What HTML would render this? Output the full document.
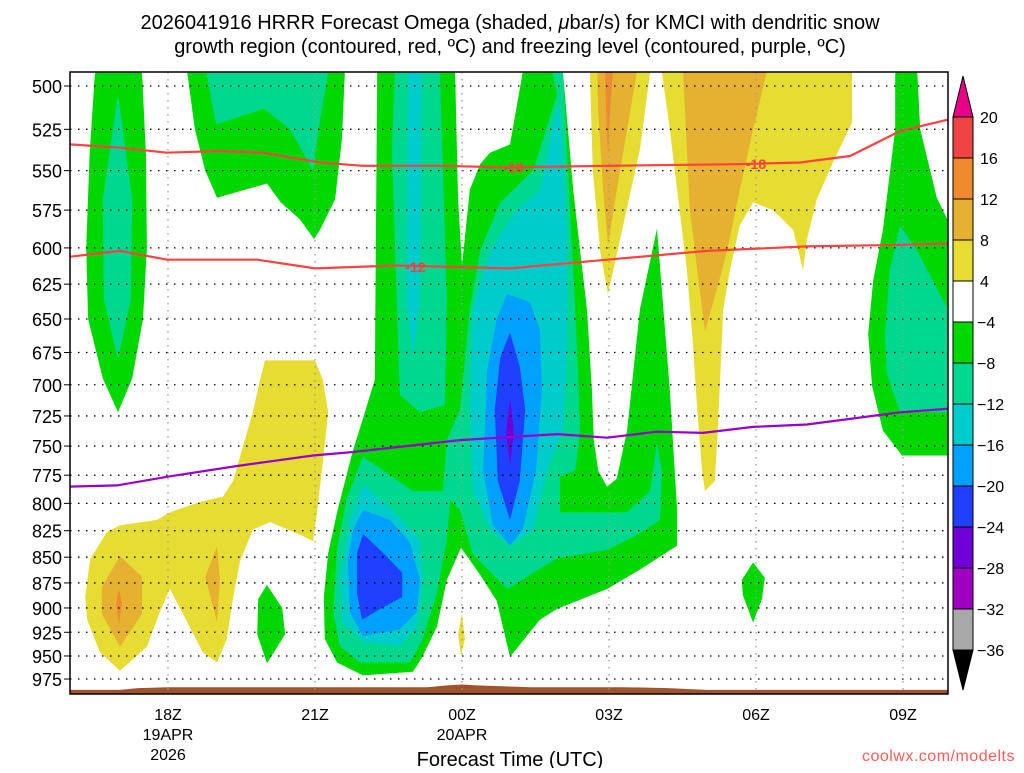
<!DOCTYPE html>
<html><head><meta charset="utf-8"><style>
body{margin:0;background:#fff;width:1024px;height:768px;overflow:hidden;font-family:"Liberation Sans",sans-serif}
svg text{font-family:"Liberation Sans","DejaVu Sans",sans-serif}
</style></head><body>
<svg id="chart" width="1024" height="768" xmlns="http://www.w3.org/2000/svg">
<text x="510" y="29" font-size="20" text-anchor="middle" fill="#000">2026041916 HRRR Forecast Omega (shaded, <tspan font-style="italic">μ</tspan>bar/s) for KMCI with dendritic snow</text>
<text x="510" y="53" font-size="20" text-anchor="middle" fill="#000">growth region (contoured, red, ºC) and freezing level (contoured, purple, ºC)</text>
<defs><clipPath id="pc"><rect x="70" y="72" width="878" height="622"/></clipPath></defs>
<g id="fills" clip-path="url(#pc)"></g>
<g id="grid"></g>
<g id="lines" clip-path="url(#pc)"></g>
<rect x="70" y="72" width="878" height="622" fill="none" stroke="#000" stroke-width="1.5"/>
<g id="axes"></g>
<g id="cbar"></g>
<text x="510" y="766" font-size="20" text-anchor="middle">Forecast Time (UTC)</text>
<text x="1015" y="761" font-size="16" text-anchor="end" fill="#ff5a5a" letter-spacing="0.5">coolwx.com/modelts</text>
</svg>
<script>
// ---- data ----
const pressureTicks=[500,525,550,575,600,625,650,675,700,725,750,775,800,825,850,875,900,925,950,975];
const timeTickHours=[2,5,8,11,14,17];
const timeTickLabels=[["18Z","19APR","2026"],["21Z"],["00Z","20APR"],["03Z"],["06Z"],["09Z"]];
const cbarLevels=[20,16,12,8,4,-4,-8,-12,-16,-20,-24,-28,-32,-36];
const cbarColors=["#f04444","#f08a2c","#e6b030","#e6dc32","#ffffff","#00d800","#00d890","#00cccc","#00a0ff","#2040ff","#7000d8","#a000c0","#a8a8a8"];
const aboveColor="#e8008a", belowColor="#000000";
// contour fill polygons: [band, [[hour, hPa],...]]
const fillShapes=[
["g",[[0.51,492],[1.47,492],[1.55,540],[1.57,600],[1.49,650],[1.27,695],[0.98,722],[0.67,695],[0.37,650],[0.33,600],[0.4,540]]],
["t",[[0.98,505],[1.27,568],[1.24,636],[0.98,680],[0.69,636],[0.67,568]]],
["g",[[2.39,492],[5.61,492],[5.55,531],[5.41,568],[5.10,588],[4.98,594],[4.69,581],[4.3,570],[4.02,558],[3.0,567],[2.76,550],[2.55,525]]],
["t",[[2.78,492],[5.27,492],[5.10,520],[4.96,550],[4.49,525],[3.96,513],[2.98,522]]],
["g",[[6.27,492],[10.06,492],[10.27,562],[10.41,602],[10.55,643],[10.65,704],[10.69,745],[10.78,771],[10.96,785],[11.16,778],[11.37,737],[11.63,643],[11.98,587],[12.24,704],[12.39,806],[12.39,839],[11.63,862],[10.96,881],[9.94,901],[9.59,912],[8.98,951],[8.71,893],[8.37,867],[7.98,841],[7.69,872],[7.49,919],[7.20,950],[7.0,967],[5.98,971],[5.45,957],[5.20,932],[5.18,889],[5.27,846],[5.45,808],[5.76,756],[5.98,727],[6.22,696]]],
["w",[[7.86,492],[9.24,492],[8.98,534],[8.57,539],[8.37,546],[8.16,562],[8.0,612],[7.92,568]]],
["t",[[6.63,492],[7.55,492],[7.69,636],[7.65,716],[7.14,722],[6.73,708],[6.57,537]]],
["t",[[7.96,720],[8.16,643],[8.37,602],[8.78,570],[9.45,550],[9.94,505],[9.84,492],[10.06,492],[10.14,537],[10.27,615],[10.35,673],[10.41,737],[10.31,771],[10.0,776],[10.0,808],[11.37,808],[11.84,789],[11.98,747],[12.08,771],[12.04,815],[11.57,829],[10.96,843],[9.94,851],[8.92,881],[8.22,847],[7.96,806],[7.76,797],[7.69,833],[7.49,885],[7.20,932],[6.94,957],[5.92,957],[5.51,940],[5.37,904],[5.45,841],[5.65,795],[5.98,759],[7.0,789],[7.61,789],[7.69,745]]],
["c",[[6.90,492],[7.18,492],[7.14,636],[7.0,679],[6.86,636]]],
["c",[[9.94,512],[9.59,562],[9.12,575],[8.57,602],[8.22,643],[8.16,720],[8.22,789],[8.57,824],[8.98,839],[9.45,824],[9.73,771],[10.06,737],[10.14,673],[10.14,588],[10.0,514]]],
["c",[[5.98,783],[5.71,815],[5.51,872],[5.57,914],[5.98,935],[6.73,939],[7.08,919],[7.20,872],[7.14,833],[6.53,804]]],
["b",[[8.92,632],[9.39,638],[9.59,658],[9.63,704],[9.51,771],[9.24,824],[8.98,839],[8.63,820],[8.43,771],[8.51,689],[8.71,650]]],
["b",[[5.98,806],[6.53,815],[6.94,836],[7.14,872],[7.08,904],[6.73,922],[5.98,929],[5.71,904],[5.67,852],[5.78,824]]],
["d",[[8.98,660],[9.18,686],[9.29,720],[9.18,780],[8.98,815],[8.73,780],[8.67,720],[8.78,679]]],
["d",[[5.98,828],[6.39,846],[6.78,865],[6.78,889],[6.33,901],[5.96,912],[5.86,885],[5.86,846]]],
["p",[[8.98,710],[9.06,738],[8.98,767],[8.90,738]]],
["g",[[16.84,491],[17.29,491],[17.35,525],[17.69,567],[17.92,582],[17.92,758],[16.98,758],[16.59,737],[16.37,701],[16.29,661],[16.39,623],[16.59,588],[16.84,525]]],
["t",[[16.94,585],[17.29,602],[17.92,643],[17.92,722],[16.94,722],[16.67,691],[16.63,661],[16.73,615]]],
["y",[[10.61,492],[11.84,492],[11.63,537],[11.22,595],[10.98,632],[10.82,602],[10.67,550]]],
["o2",[[10.76,492],[11.57,492],[11.37,525],[11.16,562],[10.98,598],[10.88,562],[10.78,514]]],
["o1",[[10.92,492],[11.08,492],[11.02,514],[10.98,540],[10.94,514]]],
["y",[[12.08,492],[15.96,492],[15.96,521],[15.57,545],[15.24,568],[15.04,594],[14.96,615],[14.76,588],[14.35,575],[13.94,570],[13.67,585],[13.47,615],[13.33,643],[13.22,737],[13.16,780],[12.96,789],[12.90,771],[12.80,720],[12.71,667],[12.59,615],[12.39,562],[12.24,525]]],
["o2",[[12.51,492],[14.22,492],[13.94,525],[13.67,562],[13.41,602],[13.20,629],[12.96,659],[12.80,615],[12.65,575],[12.55,514]]],
["y",[[0.31,889],[0.41,852],[0.76,826],[1.02,820],[1.78,815],[2.04,808],[2.71,798],[3.12,794],[3.33,780],[3.53,750],[3.73,722],[3.88,696],[3.98,681],[5.0,681],[5.16,696],[5.27,722],[5.16,764],[5.04,808],[4.96,835],[4.76,830],[4.08,817],[3.73,824],[3.47,854],[3.33,889],[3.20,932],[3.0,957],[2.71,946],[2.39,914],[2.04,881],[1.84,903],[1.57,940],[1.02,966],[0.61,946],[0.35,912]]],
["o2",[[1.02,849],[1.47,869],[1.47,906],[1.02,940],[0.65,906],[0.65,879]]],
["o1",[[1.0,881],[1.06,895],[1.0,917],[0.94,895]]],
["o2",[[3.0,840],[3.06,872],[3.0,914],[2.76,869]]],
["g",[[4.02,877],[4.33,900],[4.39,927],[4.02,958],[3.82,927],[3.84,891]]],
["y",[[8.0,906],[8.06,932],[7.98,950],[7.92,927]]],
["g",[[13.94,855],[14.18,870],[14.12,891],[13.94,915],[13.73,887],[13.71,872]]]
];
const bandColors={g:"#00d800",t:"#00d890",c:"#00cccc",b:"#00a0ff",d:"#2040ff",p:"#7000d8",y:"#e6dc32",o2:"#e6b030",o1:"#f08a2c",w:"#ffffff"};
// contour lines
const m18Hours=[0,1.02,1.98,3.06,3.94,5.10,5.98,7.55,8.92,10.96,13.61,14.9,15.92,16.94,17.96];
const m18Press=[534,536,539,538,539,545,547,547,548,547,546,545,541,526,519];
const m12Hours=[0,1.02,1.98,3.82,5.0,6.67,8.98,10.96,13.0,15.04,16.94,17.96];
const m12Press=[606,602,608,608,614,612,614,608,602,599,598,597];
const frzHours=[0,0.96,2.04,3.41,4.96,5.78,7.96,9.94,10.96,11.98,12.92,13.94,15.04,16.94,17.96];
const frzPress=[785,784,776,767,758,755,745,740,743,738,739,734,732,722,719];
const groundHours=[0,1.0,1.4,2.0,7.3,7.7,8.0,8.3,9.4,10.0,11.3,12.2,13.0,18];
const groundPress=[987,987,985,984,984,982,981,982,984,984,984,985,987,987];

// ---- axes ----
const X=h=>70+49*h;
const Y=p=>86+888*Math.log(p/500);
const NS="http://www.w3.org/2000/svg";
function mk(tag,parent,attrs){const e=document.createElementNS(NS,tag);for(const k in attrs)e.setAttribute(k,attrs[k]);parent.appendChild(e);return e;}
const fills=document.getElementById('fills');
fillShapes.forEach((s,i)=>{
  const pts=s[1].map(q=>X(q[0]).toFixed(1)+","+Y(q[1]).toFixed(1)).join(" ");
  const el=mk('polygon',fills,{points:pts,fill:bandColors[s[0]]});
  
  
});
// ground
{
  let d="M"+X(groundHours[0])+","+Y(1000);
  groundHours.forEach((h,i)=>{d+=" L"+X(h).toFixed(1)+","+Y(groundPress[i]).toFixed(1);});
  d+=" L"+X(18)+",700 L70,700 Z";
  const g=mk('path',fills,{d:d,fill:"#a0522d"});
  
  
}
const grid=document.getElementById('grid');
const axes=document.getElementById('axes');
pressureTicks.forEach(p=>{
  const y=Y(p);
  const l=mk('line',grid,{x1:70,x2:948,y1:y,y2:y,stroke:"#000","stroke-width":1.3,"stroke-dasharray":"1.5,6.5"});
  
  
  const t=mk('text',axes,{x:62,y:y+7,"font-size":18,"text-anchor":"end"});
  t.textContent=p;
  
  
  const tk=mk('line',axes,{x1:64,x2:70,y1:y,y2:y,stroke:"#000"});
  
  
});
timeTickHours.forEach((h,i)=>{
  const x=X(h);
  const l=mk('line',grid,{x1:x,x2:x,y1:72,y2:694,stroke:"#999","stroke-width":1.3,"stroke-dasharray":"1.5,5.5"});
  
  
  timeTickLabels[i].forEach((s,j)=>{
    const t=mk('text',axes,{x:x,y:720+j*20,"font-size":16,"text-anchor":"middle"});
    t.textContent=s;
    
    
  });
});
// lines
const lines=document.getElementById('lines');
function drawLine(hs,ps,color,name){
  const pts=hs.map((h,i)=>X(h).toFixed(1)+","+Y(ps[i]).toFixed(1)).join(" ");
  const el=mk('polyline',lines,{points:pts,fill:"none",stroke:color,"stroke-width":2.2});
  
  
}
drawLine(m18Hours,m18Press,"#ff4040","contour-minus18");
drawLine(m12Hours,m12Press,"#ff4040","contour-minus12");
drawLine(frzHours,frzPress,"#9900cc","freezing-level-line");
function lab(h,p,s){
  const t=mk('text',lines,{x:X(h),y:Y(p)+5,"font-size":14,"font-weight":"bold","text-anchor":"middle",fill:"#ff4040"});
  t.textContent=s;
  
  
}
lab(9.05,548,"-18");lab(14.0,546,"-18");lab(7.05,613,"-12");
// colorbar
const cb=document.getElementById('cbar');
const cbX=953,cbW=20,cbTop=117,cbStep=41;
{
  const t=mk('polygon',cb,{points:`${cbX},${cbTop} ${cbX+cbW},${cbTop} ${cbX+cbW/2},${cbTop-41}`,fill:aboveColor,stroke:"#000"});
  
  
}
cbarColors.forEach((c,i)=>{
  const r=mk('rect',cb,{x:cbX,y:cbTop+i*cbStep,width:cbW,height:cbStep,fill:c,stroke:"#000","stroke-width":1});
  
  
});
{
  const yb=cbTop+cbarColors.length*cbStep;
  const t=mk('polygon',cb,{points:`${cbX},${yb} ${cbX+cbW},${yb} ${cbX+cbW/2},${yb+40}`,fill:belowColor,stroke:"#000"});
  
  
}
cbarLevels.forEach((v,i)=>{
  const t=mk('text',cb,{x:v<0?977:980,y:cbTop+i*cbStep+6,"font-size":16});
  t.textContent=v<0?"\u2212"+(-v):String(v);
  
  
});
</script>
</body></html>
